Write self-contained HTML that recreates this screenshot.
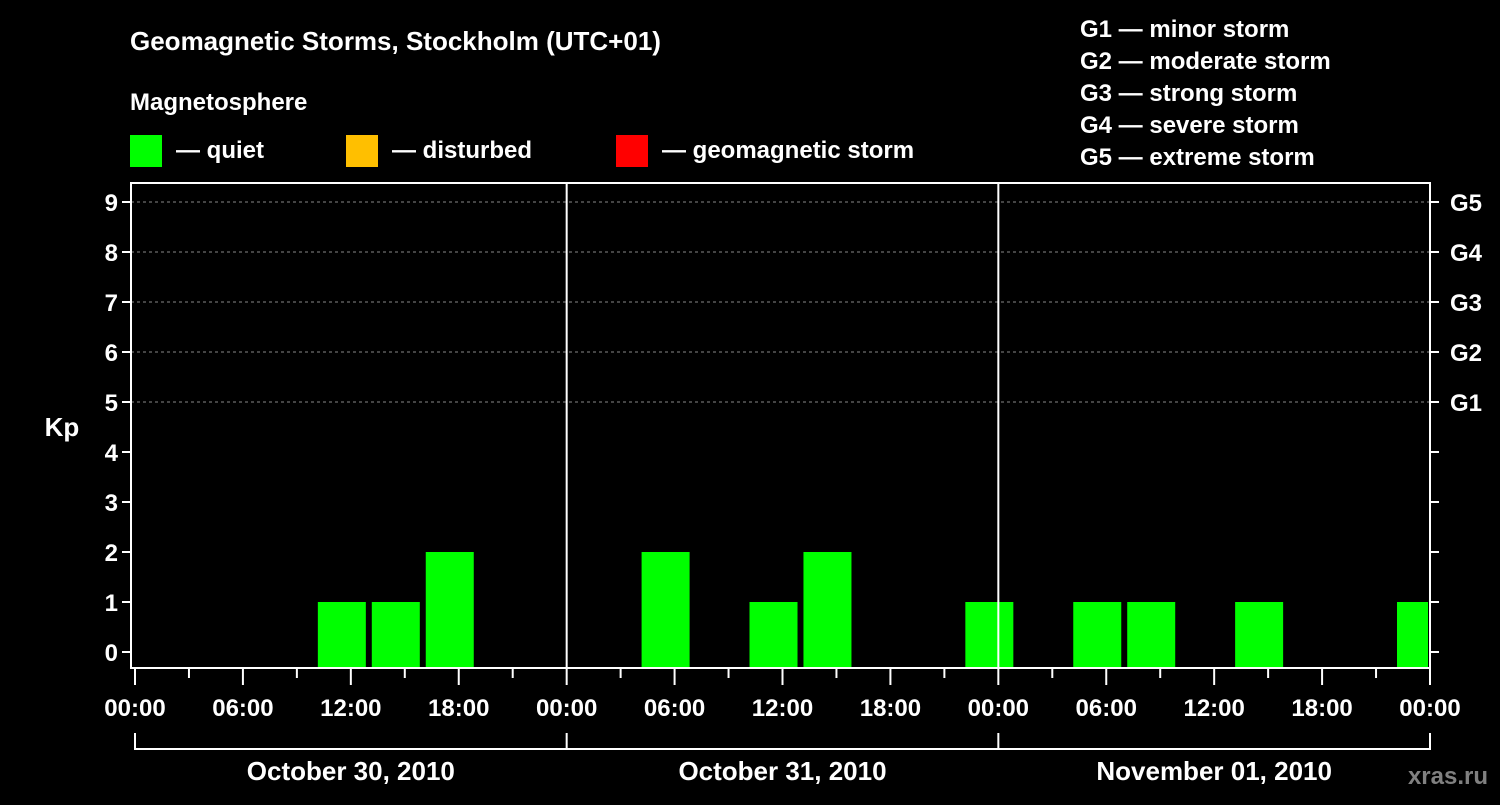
<!DOCTYPE html>
<html><head><meta charset="utf-8"><style>
body{margin:0;background:#000;width:1500px;height:800px;overflow:hidden}
svg text{font-family:"Liberation Sans",sans-serif;font-weight:bold;fill:#fff}
</style></head><body>
<svg id="c" width="1500" height="800">
<text x="130" y="50" font-size="26">Geomagnetic Storms, Stockholm (UTC+01)</text>
<text x="130" y="110" font-size="24">Magnetosphere</text>
<g>
<rect x="130" y="135" width="32" height="32" fill="#00ff00"/>
<text x="176" y="158" font-size="24">— quiet</text>
<rect x="346" y="135" width="32" height="32" fill="#ffbf00"/>
<text x="392" y="158" font-size="24">— disturbed</text>
<rect x="616" y="135" width="32" height="32" fill="#ff0000"/>
<text x="662" y="158" font-size="24">— geomagnetic storm</text>
</g>
<g font-size="24">
<text x="1080" y="37">G1 — minor storm</text>
<text x="1080" y="69">G2 — moderate storm</text>
<text x="1080" y="101">G3 — strong storm</text>
<text x="1080" y="133">G4 — severe storm</text>
<text x="1080" y="165">G5 — extreme storm</text>
</g>
<text x="62" y="436" font-size="26" text-anchor="middle">Kp</text>
<text x="1488" y="784" font-size="24" text-anchor="end" fill="#777" style="fill:#808080">xras.ru</text>
<g id="plot"></g>
</svg>
<script>
const kpValues=[0,0,0,1,1,2,0,0,0,2,0,1,2,0,0,1,0,1,1,0,1,0,0,1];
const hourTicks=["00:00","06:00","12:00","18:00","00:00","06:00","12:00","18:00","00:00","06:00","12:00","18:00","00:00"];
const dayLabels=["October 30, 2010","October 31, 2010","November 01, 2010"];
const gLabels=["G1","G2","G3","G4","G5"];
const kpTicks=[0,1,2,3,4,5,6,7,8,9];
const NS="http://www.w3.org/2000/svg";
const g=document.getElementById('plot');
const X0=135,X1=1430,L=131,T=183,B=668,H=72;
const x=h=>X0+(X1-X0)*h/H;
const y=k=>652-50*k;
function mk(t,a){const e=document.createElementNS(NS,t);for(const k in a)e.setAttribute(k,a[k]);g.appendChild(e);return e;}
// grid
for(let k=5;k<=9;k++){const e=mk('line',{x1:L,x2:X1,y1:y(k),y2:y(k),stroke:'#888','stroke-dasharray':'3,3','stroke-width':1});

}
// bars
kpValues.forEach((v,i)=>{if(v<=0)return;const c=x(i*3+2.5);const l=Math.max(c-24,L),r=Math.min(c+24,X1-2);
const e=mk('rect',{x:l,y:y(v),width:r-l,height:B-y(v),fill:'#00ff00'});

});
// frame
const fr=mk('rect',{x:L,y:T,width:X1-L,height:B-T,fill:'none',stroke:'#fff','stroke-width':2});


[24,48].forEach(h=>{const e=mk('line',{x1:x(h),x2:x(h),y1:T,y2:B,stroke:'#fff','stroke-width':2});

});
// y ticks
kpTicks.forEach(k=>{
const t=mk('line',{x1:L-9,x2:L,y1:y(k),y2:y(k),stroke:'#fff','stroke-width':2});


const t2=mk('line',{x1:X1,x2:X1+9,y1:y(k),y2:y(k),stroke:'#fff','stroke-width':2});


const tx=mk('text',{x:118,y:y(k)+9,'font-size':24,'text-anchor':'end'});tx.textContent=k;

});
gLabels.forEach((s,i)=>{const tx=mk('text',{x:1450,y:y(5+i)+9,'font-size':24});tx.textContent=s;

});
// x ticks
for(let h=0;h<=H;h+=3){const maj=h%6==0;
const t=mk('line',{x1:x(h),x2:x(h),y1:B,y2:B+(maj?17:10),stroke:'#fff','stroke-width':2});

}
hourTicks.forEach((s,i)=>{const tx=mk('text',{x:x(i*6),y:716,'font-size':24,'text-anchor':'middle'});tx.textContent=s;

});
dayLabels.forEach((s,i)=>{const a=x(i*24),b=x(i*24+24);
const p=mk('path',{d:`M${a} 733V749H${b}`+(i==2?`V733`:''),stroke:'#fff','stroke-width':2,fill:'none'});


const tx=mk('text',{x:(a+b)/2,y:780,'font-size':26,'text-anchor':'middle'});tx.textContent=s;

});
</script>
</body></html>
